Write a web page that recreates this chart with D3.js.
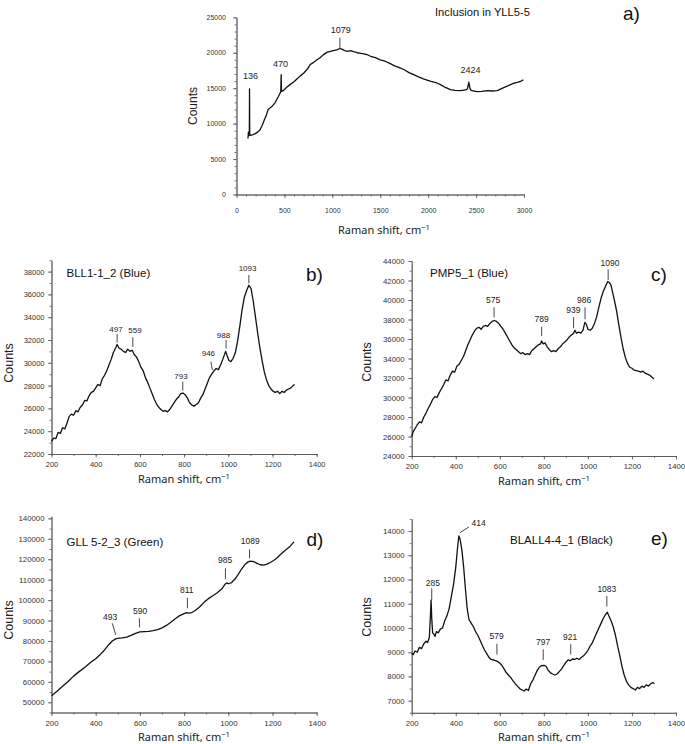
<!DOCTYPE html>
<html>
<head>
<meta charset="utf-8">
<script src="https://cdn.jsdelivr.net/npm/d3@7"></script>
<style>
body { margin:0; background:#fff; }
text { font-family: "Liberation Sans", Arial, sans-serif; }
.axis path, .axis line { stroke:#555; stroke-width:0.8; }
.axis text { fill:#333; }
.xtitle { font-family: "Noto Sans", "Liberation Sans", sans-serif; }
</style>
</head>
<body>
<script>
// ---- panel a) Inclusion in YLL5-5
var shiftA  = [120,124,128,134,136,138,146,170,192,220,244,270,290,314,330,349,375,401,420,436,453,462,466,470,488,520,558,600,630,663,700,740,767,800,840,872,905,942,980,1010,1046,1079,1099,1130,1160,1190,1221,1260,1300,1330,1360,1400,1450,1500,1550,1600,1650,1700,1750,1800,1849,1900,1950,1988,2030,2080,2128,2180,2232,2280,2337,2389,2410,2424,2435,2449,2480,2511,2560,2616,2670,2721,2760,2800,2825,2860,2895,2940,2970,2993];
var countsA = [7900,8800,8300,8400,14900,8400,8350,8450,8550,8800,9100,9800,10500,11300,12000,12200,12500,12900,13400,13800,14250,14500,16900,14550,14650,15100,15500,15900,16300,16700,17100,17700,18300,18600,19000,19300,19700,20050,20200,20300,20400,20600,20500,20300,20200,20300,20150,20000,19900,19850,19750,19500,19300,19000,18800,18500,18150,17900,17600,17200,16900,16600,16300,16150,15950,15800,15500,15100,14800,14700,14650,14750,14900,15850,15000,14700,14600,14500,14550,14650,14600,14650,14900,15150,15300,15500,15700,15850,16000,16200];
var peaksA = ["136","470","1079","2424"];
var peakTextA = [[146,16295],[460,18030],[1087,22830],[2441,17190]];
var peakTickA = [null,null,[1079,22120,1079,20630],null];

// ---- panel b) BLL1-1_2 (Blue)
var shiftB  = [200,210,220,230,240,250,260,270,280,290,300,310,320,330,340,350,360,370,380,390,400,410,420,430,440,450,460,470,480,490,497,505,515,525,535,545,555,565,575,585,595,605,615,625,635,645,655,665,675,685,695,705,715,725,735,745,755,765,775,785,795,805,815,825,835,845,855,865,875,885,895,905,915,925,935,945,955,965,975,988,995,1003,1012,1022,1032,1042,1052,1062,1072,1082,1093,1103,1113,1123,1133,1143,1153,1163,1173,1183,1193,1203,1213,1223,1233,1243,1253,1263,1273,1283,1293,1300];
var countsB = [23100,23400,23350,23900,23800,24300,24200,24700,25300,25500,25400,25800,25700,26100,26300,26700,26650,27100,27400,27500,27800,28100,28000,28600,28900,29300,29800,30300,30900,31300,31600,31300,31200,31000,30900,31200,31000,31100,30700,30500,30100,29600,29300,28700,28300,27800,27300,26800,26400,26100,25900,25750,25800,25700,25900,26200,26500,26800,27000,27300,27350,27200,26900,26500,26300,26200,26350,26500,26900,27200,27700,28200,28700,29000,29300,29500,29400,29800,30300,31000,30600,30200,30100,30400,30900,31900,33200,34600,35700,36300,36800,36500,35400,34000,32600,31300,30200,29200,28500,28000,27700,27500,27400,27500,27300,27500,27400,27600,27700,27800,28000,28100];
var peaksB = ["497","559","793","946","988","1093"];
var peakTextB = [[492,32730],[578,32590],[786,28580],[910,30600],[978,32200],[1087,38050]];
var peakTickB = [[497,32530,497,31760],[568,32240,568,31410],[794,28340,794,27550],[921,30100,928,29370],[990,32000,990,31270],[1093,37700,1093,36970]];

// ---- panel c) PMP5_1 (Blue)
var shiftC  = [200,207,215,225,235,245,255,265,275,285,295,305,315,325,335,345,355,365,375,385,395,405,415,425,435,445,455,465,475,485,495,505,515,525,535,545,555,565,575,585,595,605,615,625,635,645,655,665,675,685,695,705,715,725,735,745,755,765,775,785,790,797,805,815,825,835,845,855,865,875,885,895,905,915,925,935,941,948,958,968,978,986,993,1000,1010,1020,1030,1040,1050,1060,1070,1080,1090,1097,1105,1112,1120,1130,1140,1150,1160,1170,1180,1190,1200,1210,1220,1230,1240,1250,1260,1270,1280,1290,1300];
var countsC = [26000,26500,26800,27200,27500,27400,28000,28400,28900,29300,29800,30100,30000,30500,30900,31300,31800,31700,32300,32700,32600,33200,33400,33800,34200,34800,35400,35900,36400,36800,37100,37200,37000,37300,37400,37300,37600,37800,37900,37800,37600,37300,37000,36600,36200,35800,35400,35100,34900,34700,34500,34600,34400,34500,34400,34800,35000,35200,35400,35500,35800,35500,35600,35200,34900,34700,34800,34700,35000,35200,35500,35700,35900,36200,36400,36600,36900,36600,36700,36600,36900,37700,37500,37000,36900,37100,37600,38300,39300,40200,40900,41400,41900,41800,41500,40800,40000,38900,37500,36200,35000,34100,33500,33100,33000,32800,32750,32700,32600,32700,32500,32400,32300,32100,31900];
var peaksC = ["575","789","939","986","1090"];
var peakTextC = [[570,39720],[790,37740],[934,38640],[983,39660],[1100,43520]];
var peakTickC = [[574,39250,574,38230],[790,37260,790,36310],[935,38230,935,37100],[987,39250,987,38020],[1092,43150,1092,42050]];

// ---- panel d) GLL 5-2_3 (Green)
var shiftD  = [200,225,250,275,300,325,350,375,400,420,440,460,475,490,505,520,540,560,580,600,620,640,660,680,700,720,740,760,780,800,811,820,835,850,870,890,910,930,950,970,985,993,1000,1015,1030,1045,1060,1075,1090,1100,1115,1130,1145,1160,1175,1190,1205,1220,1235,1250,1265,1280,1297];
var countsD = [53200,55400,57800,60200,62800,65000,67000,69300,71300,73300,75600,78300,80000,81000,81400,81500,81900,82700,83700,84400,84600,84700,85100,85600,86400,87600,89200,90900,92400,93400,93900,93600,93900,94900,96600,98900,100700,102100,103600,105400,107700,108400,108000,108600,110300,112600,115200,117400,118700,119100,118800,118000,117300,117100,117600,118400,119400,120600,122200,123700,125000,126400,128500];
var peaksD = ["493","590","811","985","1089"];
var peakTextD = [[465,90250],[601,93190],[812,103300],[986,118000],[1099,127290]];
var peakTickD = [[475,88640,491,82920],[598,91090,598,86680],[815,101160,815,95980],[987,115550,987,110170],[1096,124840,1096,120440]];

// ---- panel e) BLALL4-4_1 (Black)
var shiftE  = [200,207,215,225,235,245,255,265,272,280,285,288,291,295,300,306,312,320,330,340,350,360,370,380,390,400,408,414,420,428,436,444,452,460,470,480,490,500,510,520,530,540,550,560,570,580,590,600,610,620,630,640,650,660,670,680,690,700,710,720,730,740,750,760,770,780,790,800,810,820,830,840,850,860,870,880,890,900,910,920,930,940,950,960,970,980,990,1000,1010,1020,1030,1040,1050,1060,1070,1080,1088,1095,1105,1115,1125,1135,1145,1155,1165,1175,1185,1195,1205,1215,1225,1235,1245,1255,1265,1275,1285,1295,1302];
var countsE = [8950,8900,9050,9000,9200,9150,9350,9450,9400,9600,10500,11150,10400,9800,9750,9650,9850,9800,9950,10000,10300,10500,10800,11300,11800,12500,13300,13800,13650,13200,12500,11600,10800,10350,10200,10050,9850,9700,9500,9300,9100,8950,8800,8700,8680,8650,8620,8550,8450,8300,8150,8050,7950,7820,7700,7600,7500,7450,7400,7480,7420,7700,7850,8050,8250,8380,8450,8460,8420,8250,8150,8100,8060,8100,8200,8300,8450,8580,8680,8650,8720,8700,8750,8700,8780,8850,8950,9080,9250,9380,9600,9800,10000,10200,10400,10550,10650,10500,10300,10050,9700,9250,8850,8400,8050,7800,7650,7550,7500,7440,7550,7500,7600,7550,7650,7600,7700,7750,7700];
var peaksE = ["285","414","579","797","921","1083"];
var peakTextE = [[296,11740],[472,14200],[586,9530],[797,9300],[919,9500],[1086,11500]];
var peakTickE = [[291,11640,291,11150],[419,13930,460,14170],[587,9350,587,8900],[797,9120,797,8680],[922,9330,922,8900],[1086,11320,1086,10880]];

var svg = d3.select("body").append("svg")
    .attr("width", 685)
    .attr("height", 744);

function ticksFrom(dom, step){
    var s = Math.ceil(dom[0]/step)*step;
    return d3.range(s, dom[1] + 0.001, step);
}

function drawPanel(p){
    var x = d3.scaleLinear().domain(p.xDomain).range(p.xRange);
    var y = d3.scaleLinear().domain(p.yDomain).range(p.yRange);
    var g = svg.append("g");
    var x0 = p.xRange[0], yb = p.yRange[0];

    // minor ticks
    g.append("g").attr("class","axis").attr("transform","translate(0,"+yb+")")
        .call(d3.axisBottom(x).tickValues(ticksFrom(p.xDomain, p.xMinor)).tickSize(2).tickSizeOuter(0).tickFormat(""));
    g.append("g").attr("class","axis").attr("transform","translate("+x0+",0)")
        .call(d3.axisLeft(y).tickValues(ticksFrom(p.yDomain, p.yMinor)).tickSize(2).tickSizeOuter(0).tickFormat(""));
    // major ticks
    var xa = g.append("g").attr("class","axis").attr("transform","translate(0,"+yb+")")
        .call(d3.axisBottom(x).tickValues(ticksFrom(p.xDomain, p.xMajor)).tickSize(3.5).tickSizeOuter(0).tickPadding(p.xPad).tickFormat(d3.format("d")));
    xa.selectAll("text").style("font-size", p.tickFont+"px");
    var ya = g.append("g").attr("class","axis").attr("transform","translate("+x0+",0)")
        .call(d3.axisLeft(y).tickValues(ticksFrom(p.yDomain, p.yMajor)).tickSize(3.5).tickSizeOuter(0).tickPadding(p.yPad).tickFormat(d3.format("d")));
    ya.selectAll("text").style("font-size", p.tickFont+"px");

    // spectrum
    var line = d3.line().x(function(d){ return x(d[0]); }).y(function(d){ return y(d[1]); });
    g.append("path")
        .datum(d3.zip(p.shift, p.counts))
        .attr("d", line)
        .attr("fill","none")
        .attr("stroke","#111")
        .attr("stroke-width",1.3)
        .attr("stroke-linejoin","round");

    // peak labels
    for(var i=0;i<p.peaks.length;i++){
        g.append("text")
            .attr("x", x(p.peakText[i][0]))
            .attr("y", y(p.peakText[i][1]))
            .attr("text-anchor", p.anchor && p.anchor[i] ? p.anchor[i] : "middle")
            .style("font-size", p.peakFont+"px")
            .style("fill","#222")
            .text(p.peaks[i]);
        var t = p.peakTick[i];
        if(t){
            g.append("line")
                .attr("x1", x(t[0])).attr("y1", y(t[1]))
                .attr("x2", x(t[2])).attr("y2", y(t[3]))
                .attr("stroke","#333").attr("stroke-width",0.9);
        }
    }

    // titles
    g.append("text").attr("x", p.title[1]).attr("y", p.title[2])
        .style("font-size", p.title[3]+"px").style("fill","#111").text(p.title[0]);
    g.append("text").attr("x", p.letter[1]).attr("y", p.letter[2])
        .style("font-size", p.letter[3]+"px").style("fill","#111").text(p.letter[0]);

    // Counts
    g.append("text")
        .attr("transform","translate("+p.countsPos[0]+","+p.countsPos[1]+") rotate(-90)")
        .attr("text-anchor","middle")
        .attr("dominant-baseline","central")
        .style("font-size", p.countsFont+"px")
        .style("fill","#222")
        .text("Counts");

    // Raman shift, cm-1
    var xt = g.append("text").attr("class","xtitle")
        .attr("x", p.xTitlePos[0]).attr("y", p.xTitlePos[1])
        .attr("text-anchor","middle")
        .style("font-size", p.xTitleFont+"px")
        .style("fill","#222");
    xt.append("tspan").text("Raman shift, cm");
    xt.append("tspan").attr("dy", -4).style("font-size", (p.xTitleFont*0.7)+"px").text("\u22121");
}

drawPanel({
    shift: shiftA, counts: countsA, peaks: peaksA, peakText: peakTextA, peakTick: peakTickA,
    xDomain:[0,3000], xRange:[236.5,524], yDomain:[0,25000], yRange:[194.5,17.3],
    xMajor:500, xMinor:100, yMajor:5000, yMinor:1000,
    xPad:10, yPad:7, tickFont:7, peakFont:9,
    title:["Inclusion in YLL5-5",435,16,11.2], letter:["a)",623,20,19],
    countsPos:[193,106], countsFont:12,
    xTitlePos:[384,234], xTitleFont:11
});
drawPanel({
    shift: shiftB, counts: countsB, peaks: peaksB, peakText: peakTextB, peakTick: peakTickB,
    xDomain:[200,1400], xRange:[51.5,316.7], yDomain:[22000,39000], yRange:[454,260.2],
    xMajor:200, xMinor:100, yMajor:2000, yMinor:1000,
    xPad:4, yPad:3.5, tickFont:7.5, peakFont:8,
    title:["BLL1-1_2 (Blue)",66.5,277,11.5], letter:["b)",306,281,19],
    countsPos:[9,363], countsFont:12.5,
    xTitlePos:[184,483], xTitleFont:11
});
drawPanel({
    shift: shiftC, counts: countsC, peaks: peaksC, peakText: peakTextC, peakTick: peakTickC,
    xDomain:[200,1400], xRange:[411.7,676], yDomain:[24000,44000], yRange:[456,261],
    xMajor:200, xMinor:100, yMajor:2000, yMinor:1000,
    xPad:4, yPad:3.5, tickFont:7.8, peakFont:8.5,
    title:["PMP5_1 (Blue)",430,277,11.5], letter:["c)",651,281,19],
    countsPos:[367,362], countsFont:12.5,
    xTitlePos:[544,485], xTitleFont:11
});
drawPanel({
    shift: shiftD, counts: countsD, peaks: peaksD, peakText: peakTextD, peakTick: peakTickD,
    xDomain:[200,1400], xRange:[51.5,316.7], yDomain:[45000,141000], yRange:[712.5,516.3],
    xMajor:200, xMinor:100, yMajor:10000, yMinor:5000,
    xPad:4.5, yPad:3.5, tickFont:7.8, peakFont:8.5,
    title:["GLL 5-2_3 (Green)",66.5,546,11.5], letter:["d)",306.5,546,19],
    countsPos:[9,620], countsFont:12.5,
    xTitlePos:[184,741], xTitleFont:11
});
drawPanel({
    shift: shiftE, counts: countsE, peaks: peaksE, peakText: peakTextE, peakTick: peakTickE,
    anchor:[null,"start",null,null,null,null],
    xDomain:[200,1400], xRange:[411.7,676], yDomain:[6500,14500], yRange:[712.8,518.9],
    xMajor:200, xMinor:100, yMajor:1000, yMinor:500,
    xPad:4.5, yPad:3.5, tickFont:7.8, peakFont:8.5,
    title:["BLALL4-4_1 (Black)",510,544,11.5], letter:["e)",651,545,19],
    countsPos:[367,617], countsFont:12.5,
    xTitlePos:[544,741], xTitleFont:11
});
</script>
</body>
</html>
